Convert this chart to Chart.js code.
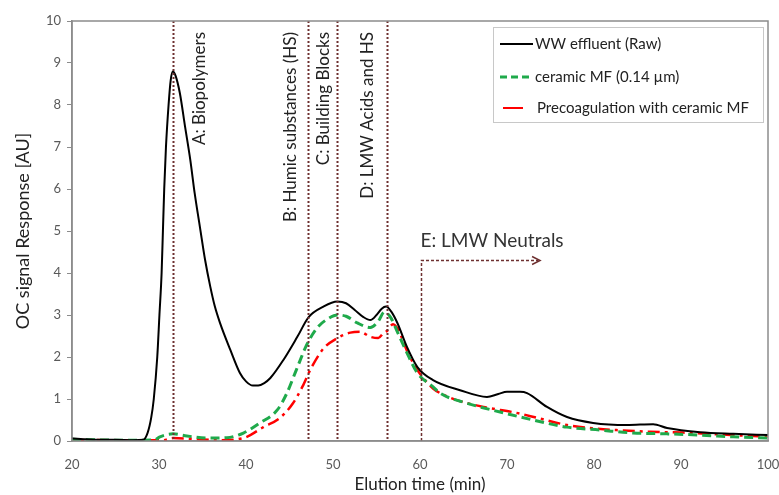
<!DOCTYPE html>
<html>
<head>
<meta charset="utf-8">
<script src="https://cdn.jsdelivr.net/npm/chart.js@4/dist/chart.umd.min.js"></script>
<style>
  html, body { margin: 0; padding: 0; background: #ffffff; }
  #wrap { width: 779px; height: 495px; position: relative; }
</style>
</head>
<body>
<div id="wrap"><canvas id="chart" width="779" height="495"></canvas></div>
<script>
// LC-OCD chromatograms: OC signal versus elution time
const rawTime = [20, 21, 23, 25, 27, 28.2, 28.7, 29.1, 29.4, 29.8, 30.05, 30.3, 30.45, 30.6, 30.8, 31.1, 31.35, 31.6, 31.9, 32.4, 33.0, 33.6, 34.1, 34.7, 35.3, 35.9, 36.4, 37.0, 38.2, 39.3, 40.0, 40.8, 41.4, 42.1, 42.8, 44.3, 45.9, 47.2, 48.9, 50.5, 51.5, 52.5, 53.5, 54.3, 55.0, 55.6, 56.1, 56.7, 57.4, 58.5, 59.7, 61.5, 64.6, 67.7, 69.0, 70.0, 71.5, 72.3, 74.6, 76.9, 79.9, 83.8, 86.8, 88.4, 92.2, 96.0, 100];
const rawSignal = [0.06, 0.05, 0.03, 0.03, 0.02, 0.03, 0.2, 0.55, 1.0, 2.0, 3.0, 4.0, 5.0, 6.0, 7.0, 8.0, 8.6, 8.8, 8.7, 8.28, 7.48, 6.69, 5.9, 5.1, 4.31, 3.67, 3.22, 2.82, 2.17, 1.62, 1.42, 1.32, 1.32, 1.38, 1.5, 1.93, 2.48, 2.95, 3.2, 3.32, 3.28, 3.12, 2.95, 2.88, 3.0, 3.15, 3.2, 3.08, 2.81, 2.24, 1.76, 1.45, 1.21, 1.05, 1.12, 1.17, 1.17, 1.14, 0.81, 0.57, 0.43, 0.38, 0.40, 0.31, 0.21, 0.17, 0.14];

const mfTime = [20, 22, 25, 28, 29.5, 30.1, 31.6, 33.2, 35.5, 37.8, 39.7, 41.6, 43.6, 44.7, 45.8, 47.0, 48.2, 49.5, 50.5, 51.5, 52.8, 54.3, 55.2, 55.9, 56.6, 57.4, 58.5, 59.7, 61.5, 62.3, 65.4, 69.2, 73.0, 76.9, 80.7, 84.5, 88.4, 92.2, 96.0, 100];
const mfSignal = [0.04, 0.03, 0.02, 0.02, 0.03, 0.1, 0.17, 0.12, 0.07, 0.08, 0.19, 0.43, 0.74, 1.14, 1.7, 2.3, 2.7, 2.92, 3.0, 2.97, 2.81, 2.7, 2.85, 3.07, 2.95, 2.6, 2.1, 1.62, 1.29, 1.14, 0.9, 0.69, 0.5, 0.33, 0.26, 0.19, 0.17, 0.14, 0.1, 0.07];

const pcTime = [20, 25, 30.5, 31.6, 33.9, 37.0, 39.7, 42.0, 43.9, 45.4, 46.5, 47.4, 48.9, 50.5, 52.0, 53.1, 54.3, 55.2, 55.8, 56.2, 56.9, 57.5, 58.5, 59.2, 60.0, 61.5, 62.7, 64.6, 67.3, 71.1, 73.5, 76.9, 80.0, 82.6, 86.4, 90.2, 94.1, 100];
const pcSignal = [0.03, 0.02, 0.02, 0.07, 0.05, 0.02, 0.07, 0.33, 0.55, 0.9, 1.3, 1.7, 2.2, 2.45, 2.58, 2.6, 2.48, 2.45, 2.57, 2.62, 2.78, 2.65, 2.15, 1.86, 1.6, 1.25, 1.1, 0.95, 0.81, 0.67, 0.55, 0.38, 0.3, 0.26, 0.22, 0.2, 0.16, 0.1];

// Fraction boundaries (min) and their labels
const fractionTimes = [31.6, 47.1, 50.5, 56.2];
const fractionLabels = ['A: Biopolymers', 'B: Humic substances (HS)', 'C: Building Blocks', 'D: LMW Acids and HS'];
const fractionLabelTimes = [34.7, 45.1, 48.9, 54.0];
// LMW neutrals region: start time, arrow level and arrow end
const neutralStart = 60.1;
const neutralLevel = 4.31;
const neutralArrowEnd = 73.8;
const neutralLabel = 'E: LMW Neutrals';

const seriesNames = ['WW effluent (Raw)', 'ceramic MF (0.14 \u00b5m)', 'Precoagulation with ceramic MF'];
const xTicks = [20, 30, 40, 50, 60, 70, 80, 90, 100];
const yTicks = [0, 1, 2, 3, 4, 5, 6, 7, 8, 9, 10];

const FONT = 'Lato, "Open Sans", sans-serif';
const MARK = '#6e3030';

const toPoints = (xs, ys) => xs.map((x, i) => ({ x: x, y: ys[i] }));

const overlay = {
  id: 'overlay',
  afterDatasetsDraw(chart) {
    const { ctx, chartArea: a, scales } = chart;
    const xs = scales.x, ys = scales.y;
    ctx.save();

    // fraction boundaries
    ctx.strokeStyle = MARK;
    ctx.lineWidth = 2;
    ctx.setLineDash([2, 2]);
    fractionTimes.forEach(t => {
      const px = Math.round(xs.getPixelForValue(t)) + 0.5;
      ctx.beginPath();
      ctx.moveTo(px, a.top);
      ctx.lineTo(px, a.bottom);
      ctx.stroke();
    });

    // neutrals bracket with arrow
    const ex = Math.round(xs.getPixelForValue(neutralStart)) + 0.5;
    const ey = Math.round(ys.getPixelForValue(neutralLevel)) + 0.5;
    const ex2 = xs.getPixelForValue(neutralArrowEnd);
    ctx.lineWidth = 1.5;
    ctx.setLineDash([3, 2]);
    ctx.beginPath();
    ctx.moveTo(ex, a.bottom);
    ctx.lineTo(ex, ey);
    ctx.lineTo(ex2 - 2, ey);
    ctx.stroke();
    ctx.setLineDash([]);
    ctx.beginPath();
    ctx.moveTo(ex2 - 8, ey - 4);
    ctx.lineTo(ex2, ey);
    ctx.lineTo(ex2 - 8, ey + 4);
    ctx.stroke();

    // rotated fraction labels
    ctx.fillStyle = '#222';
    ctx.font = '17px ' + FONT;
    ctx.textAlign = 'right';
    ctx.textBaseline = 'middle';
    fractionLabels.forEach((lab, i) => {
      const px = xs.getPixelForValue(fractionLabelTimes[i]);
      ctx.save();
      ctx.translate(px, a.top + 11);
      ctx.rotate(-Math.PI / 2);
      ctx.fillText(lab, 0, 0);
      ctx.restore();
    });

    ctx.font = '19px ' + FONT;
    ctx.fillStyle = '#333';
    ctx.textAlign = 'left';
    ctx.fillText(neutralLabel, ex - 1, ey - 20);

    // plot frame
    ctx.strokeStyle = '#8c8c8c';
    ctx.lineWidth = 1.5;
    ctx.strokeRect(a.left, a.top, a.right - a.left, a.bottom - a.top);

    // legend
    const lx = 493, ly = 27, lw = 270, lh = 95;
    ctx.fillStyle = '#fff';
    ctx.fillRect(lx, ly, lw, lh);
    ctx.strokeStyle = '#c8c8c8';
    ctx.lineWidth = 1;
    ctx.strokeRect(lx + 0.5, ly + 0.5, lw, lh);
    const rows = [44, 77, 108];
    const samples = [
      { c: '#000', w: 2, d: [], x0: 500, x1: 533 },
      { c: '#1faa4b', w: 3, d: [7, 4], x0: 500, x1: 533 },
      { c: '#ff0000', w: 2, d: [], x0: 503, x1: 523 }
    ];
    ctx.font = '15px ' + FONT;
    ctx.textBaseline = 'middle';
    rows.forEach((ry, i) => {
      const s = samples[i];
      ctx.strokeStyle = s.c;
      ctx.lineWidth = s.w;
      ctx.setLineDash(s.d);
      ctx.beginPath();
      ctx.moveTo(s.x0, ry);
      ctx.lineTo(s.x1, ry);
      ctx.stroke();
      ctx.setLineDash([]);
      ctx.fillStyle = '#222';
      ctx.fillText(seriesNames[i], i === 2 ? 537 : 535, ry);
    });

    ctx.restore();
  }
};

new Chart(document.getElementById('chart'), {
  type: 'line',
  data: {
    datasets: [
      {
        label: seriesNames[0],
        data: toPoints(rawTime, rawSignal),
        borderColor: '#000000',
        borderWidth: 2,
        pointRadius: 0,
        cubicInterpolationMode: 'monotone',
        order: 1
      },
      {
        label: seriesNames[1],
        data: toPoints(mfTime, mfSignal),
        borderColor: '#1faa4b',
        borderWidth: 3,
        borderDash: [9, 5],
        pointRadius: 0,
        cubicInterpolationMode: 'monotone',
        order: 2
      },
      {
        label: seriesNames[2],
        data: toPoints(pcTime, pcSignal),
        borderColor: '#ff0000',
        borderWidth: 2.5,
        borderDash: [12, 5, 3, 5],
        pointRadius: 0,
        cubicInterpolationMode: 'monotone',
        order: 3
      }
    ]
  },
  options: {
    responsive: false,
    animation: false,
    layout: { padding: { top: 21, right: 0, left: 0, bottom: 0 } },
    plugins: { legend: { display: false }, tooltip: { enabled: false } },
    scales: {
      x: {
        type: 'linear',
        min: 20,
        max: 100,
        afterBuildTicks: s => { s.ticks = xTicks.map(v => ({ value: v })); },
        afterFit: s => { s.height = 54; s.paddingRight = 11; },
        ticks: { color: '#595959', font: { family: FONT, size: 13 }, padding: 8 },
        grid: { display: false },
        border: { display: true, color: '#8c8c8c', width: 1.5 },
        title: {
          display: true,
          text: 'Elution time (min)',
          color: '#222',
          font: { family: FONT, size: 17 },
          padding: { top: 4, bottom: 0 }
        }
      },
      y: {
        min: 0,
        max: 10,
        afterBuildTicks: s => { s.ticks = yTicks.map(v => ({ value: v })); },
        afterFit: s => { s.width = 72; },
        ticks: { color: '#595959', font: { family: FONT, size: 13 }, padding: 6 },
        grid: { display: true, drawOnChartArea: false, drawTicks: true, tickLength: 5, color: '#8c8c8c' },
        border: { display: true, color: '#8c8c8c', width: 1.5 },
        title: {
          display: true,
          text: 'OC signal Response [AU]',
          color: '#222',
          font: { family: FONT, size: 18 },
          padding: { top: 12, bottom: 4 }
        }
      }
    }
  },
  plugins: [overlay]
});
</script>
</body>
</html>
